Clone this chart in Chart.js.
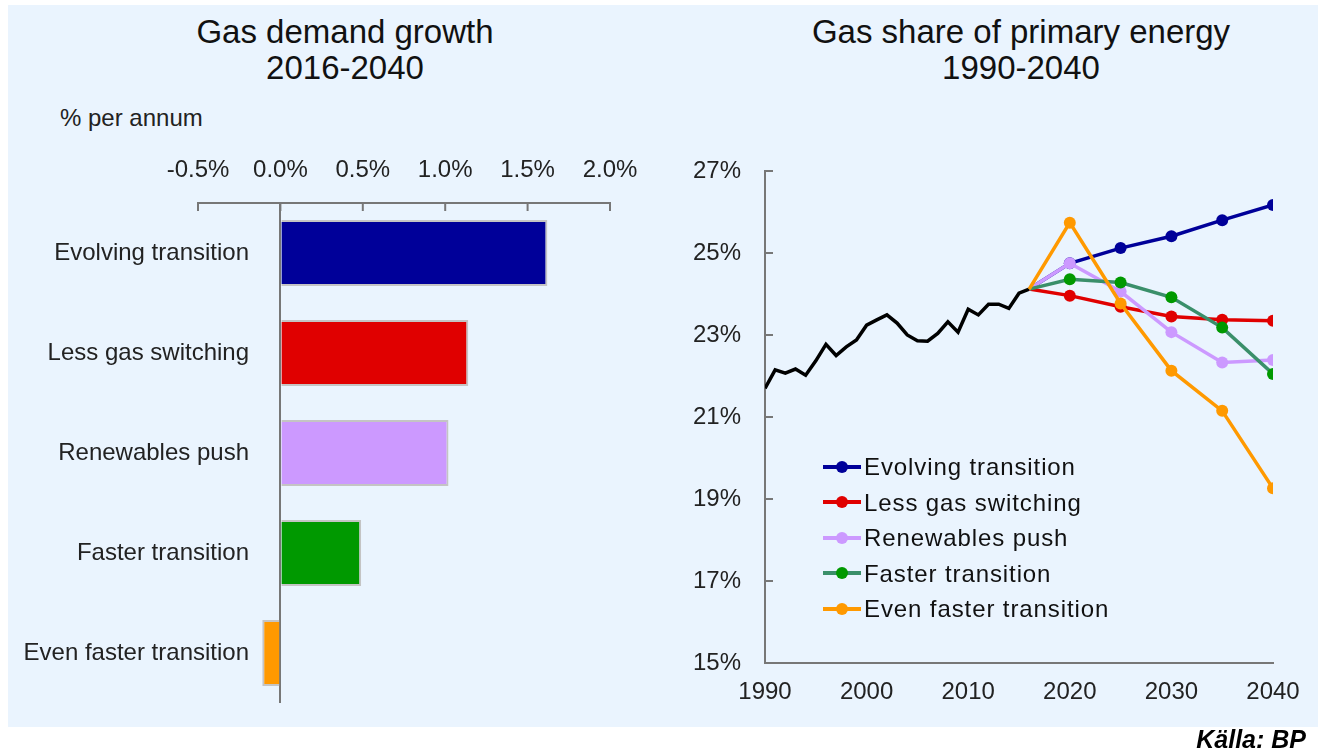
<!DOCTYPE html>
<html lang="en">
<head>
    <meta charset="UTF-8">
    <title>Gas demand growth / Gas share of primary energy</title>
    <script src="https://cdn.jsdelivr.net/npm/chart.js"></script>
    <style>
        * { margin: 0; padding: 0; box-sizing: border-box; }
        body { width: 1323px; height: 752px; background: #fff; font-family: 'Liberation Sans', Arial, sans-serif; position: relative; overflow: hidden; }
        .panel { position: absolute; left: 8px; top: 5px; width: 1310px; height: 722px; background: #eaf4fe; }
        .title { position: absolute; text-align: center; font-size: 33px; line-height: 36px; color: #111; }
        .unit { position: absolute; left: 60px; top: 104px; font-size: 24px; line-height: 28px; color: #222; }
        canvas { position: absolute; }
        .legend { position: absolute; left: 823px; top: 449px; font-size: 24px; letter-spacing: 0.9px; color: #111; }
        .legend div { height: 35.5px; line-height: 35.5px; display: flex; align-items: center; }
        .mk { position: relative; width: 38px; height: 4px; margin-right: 3px; }
        .mk i { position: absolute; left: 13px; top: -4px; width: 12px; height: 12px; border-radius: 50%; }
        .source { position: absolute; right: 17px; top: 725px; font-size: 25px; line-height: 28px; font-weight: bold; font-style: italic; color: #000; }
    </style>
</head>
<body>
    <div class="panel"></div>
    <div class="title" style="left:145px; top:14px; width:400px;">Gas demand growth<br>2016-2040</div>
    <div class="title" style="left:771px; top:14px; width:500px;">Gas share of primary energy<br>1990-2040</div>
    <div class="unit">% per annum</div>
    <canvas id="barChart" width="660" height="600" style="left:0; top:130px;"></canvas>
    <canvas id="lineChart" width="643" height="600" style="left:680px; top:130px;"></canvas>
    <div class="legend" id="legend"></div>
    <div class="source">Källa: BP</div>

    <script>
        // left panel: average growth 2016-2040, % per annum
        const scenarios = ['Evolving transition', 'Less gas switching', 'Renewables push', 'Faster transition', 'Even faster transition'];
        const growth = [1.62, 1.14, 1.02, 0.49, -0.11];
        const barColors = ['#000099', '#e00000', '#cc99ff', '#009900', '#ff9900'];
        const growthTicks = [-0.5, 0.0, 0.5, 1.0, 1.5, 2.0];

        // right panel: gas share of primary energy, %
        const histYears = [1990, 1991, 1992, 1993, 1994, 1995, 1996, 1997, 1998, 1999, 2000, 2001, 2002, 2003,
            2004, 2005, 2006, 2007, 2008, 2009, 2010, 2011, 2012, 2013, 2014, 2015, 2016];
        const histShare = [21.70, 22.15, 22.07, 22.17, 22.02, 22.37, 22.77, 22.50, 22.71, 22.88, 23.24, 23.37, 23.49, 23.29,
            23.00, 22.86, 22.85, 23.04, 23.32, 23.07, 23.63, 23.49, 23.75, 23.75, 23.65, 24.02, 24.12];
        const projYears = [2016, 2020, 2025, 2030, 2035, 2040];
        const evolving = [24.12, 24.75, 25.12, 25.41, 25.80, 26.17];
        const lessGas = [24.12, 23.96, 23.69, 23.45, 23.37, 23.35];
        const renewables = [24.12, 24.75, 24.06, 23.07, 22.33, 22.39];
        const faster = [24.12, 24.36, 24.28, 23.92, 23.18, 22.05];
        const evenFaster = [24.12, 25.74, 23.77, 22.13, 21.15, 19.26];
        const lineColors = ['#000099', '#e00000', '#cc99ff', '#3a8f6a', '#ff9900'];
        const dotColors = ['#000099', '#e00000', '#cc99ff', '#009900', '#ff9900'];

        const axisGrey = '#777';
        const fontFamily = "'Liberation Sans', Arial, sans-serif";
        const tickFont = { family: fontFamily, size: 24 };

        // tick marks pointing into the plot area
        const inwardTicks = {
            id: 'inwardTicks',
            afterDatasetsDraw(chart, args, opts) {
                const c = chart.ctx;
                c.save();
                c.strokeStyle = axisGrey;
                c.lineWidth = 2;
                (opts.axes || []).forEach(id => {
                    const s = chart.scales[id];
                    s.ticks.forEach((t, i) => {
                        const p = s.getPixelForTick(i);
                        c.beginPath();
                        if (s.isHorizontal()) { c.moveTo(p, s.bottom); c.lineTo(p, s.bottom + opts.len); }
                        else { c.moveTo(s.right, p); c.lineTo(s.right + opts.len, p); }
                        c.stroke();
                    });
                });
                c.restore();
            }
        };

        // category labels of the bar chart reach past the left end of the value axis,
        // so they are written at the category positions of the y scale
        const categoryLabels = {
            id: 'categoryLabels',
            afterDraw(chart, args, opts) {
                const c = chart.ctx;
                const s = chart.scales.y;
                c.save();
                c.font = opts.size + 'px ' + fontFamily;
                c.fillStyle = '#222';
                c.textAlign = 'right';
                c.textBaseline = 'middle';
                s.ticks.forEach((t, i) => {
                    c.fillText(chart.data.labels[t.value], opts.x, s.getPixelForTick(i));
                });
                c.restore();
            }
        };

        new Chart(document.getElementById('barChart'), {
            type: 'bar',
            data: {
                labels: scenarios,
                datasets: [{
                    data: growth,
                    backgroundColor: barColors,
                    borderColor: '#c4c4c4',
                    borderWidth: 2,
                    categoryPercentage: 0.66,
                    barPercentage: 1
                }]
            },
            options: {
                indexAxis: 'y',
                responsive: false,
                animation: false,
                layout: { padding: { top: 0, right: 50, bottom: 27, left: 0 } },
                plugins: {
                    legend: { display: false },
                    tooltip: { enabled: false },
                    inwardTicks: { axes: ['x'], len: 8 },
                    categoryLabels: { x: 249, size: 24 }
                },
                scales: {
                    x: {
                        position: 'top',
                        min: -0.5, max: 2.0,
                        afterBuildTicks: s => { s.ticks = growthTicks.map(v => ({ value: v })); },
                        afterFit: s => { s.height = 73; },
                        grid: {
                            drawTicks: false,
                            lineWidth: 2,
                            color: ctx => (ctx.tick && ctx.tick.value === 0) ? axisGrey : 'rgba(0,0,0,0)'
                        },
                        border: { color: axisGrey, width: 2 },
                        ticks: { padding: 18, color: '#222', font: tickFont, callback: v => v.toFixed(1) + '%' }
                    },
                    y: {
                        afterFit: s => { s.width = 198; },
                        grid: { display: false, drawTicks: false },
                        border: { display: false },
                        ticks: { display: false }
                    }
                }
            },
            plugins: [inwardTicks, categoryLabels]
        });

        const scenarioSeries = [evolving, lessGas, renewables, faster, evenFaster];
        const drawOrder = [5, 4, 3, 2, 1];
        const datasets = [{
            data: histYears.map((y, i) => ({ x: y, y: histShare[i] })),
            borderColor: '#000',
            borderWidth: 3.5,
            pointRadius: 0,
            order: 6
        }];
        scenarioSeries.forEach((vals, k) => {
            datasets.push({
                label: scenarios[k],
                data: projYears.map((y, i) => ({ x: y, y: vals[i] })),
                borderColor: lineColors[k],
                backgroundColor: dotColors[k],
                pointBackgroundColor: dotColors[k],
                pointBorderWidth: 0,
                borderWidth: 3.5,
                pointRadius: ctx => ctx.dataIndex === 0 ? 0 : 6,
                order: drawOrder[k]
            });
        });

        new Chart(document.getElementById('lineChart'), {
            type: 'line',
            data: { datasets: datasets },
            options: {
                responsive: false,
                animation: false,
                layout: { padding: { top: 41, right: 50, bottom: 0, left: 0 } },
                plugins: { legend: { display: false }, tooltip: { enabled: false }, inwardTicks: { axes: ['y'], len: 8 } },
                scales: {
                    x: {
                        type: 'linear',
                        min: 1990, max: 2040,
                        afterFit: s => { s.height = 67; },
                        grid: { display: false, drawTicks: false },
                        border: { color: axisGrey, width: 2 },
                        ticks: { stepSize: 10, padding: 15, color: '#222', font: tickFont, callback: v => String(v) }
                    },
                    y: {
                        min: 15, max: 27,
                        afterFit: s => { s.width = 85; },
                        grid: { display: false, drawTicks: false },
                        border: { color: axisGrey, width: 2 },
                        ticks: { stepSize: 2, padding: 24, color: '#222', font: tickFont, callback: v => v + '%' }
                    }
                }
            },
            plugins: [inwardTicks]
        });

        // legend placed inside the plot area, as in the original
        const legend = document.getElementById('legend');
        scenarios.forEach((name, k) => {
            const row = document.createElement('div');
            row.innerHTML = '<span class="mk" style="background:' + lineColors[k] + '"><i style="background:' + dotColors[k] + '"></i></span>' + name;
            legend.appendChild(row);
        });
    </script>
</body>
</html>
